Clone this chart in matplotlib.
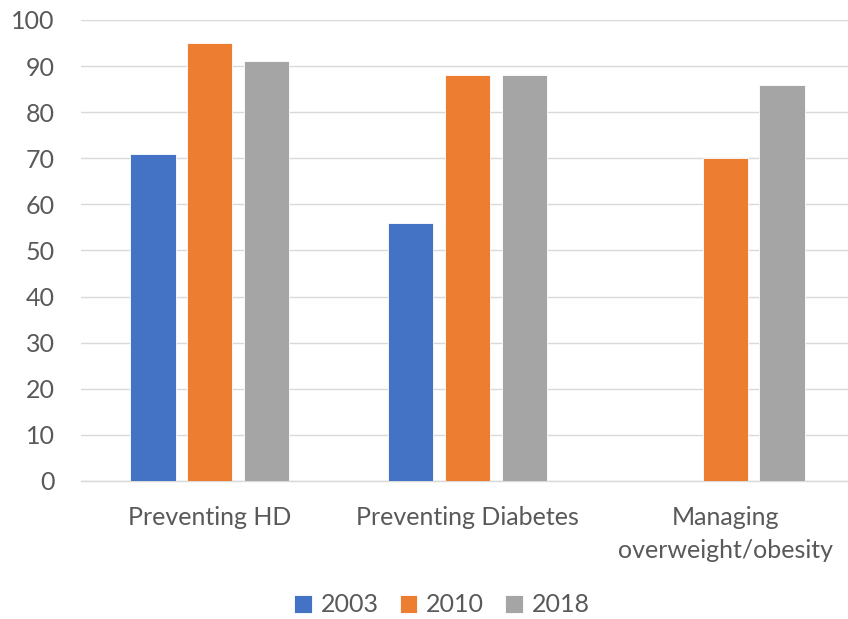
import matplotlib.pyplot as plt
import numpy as np

plt.rcParams['font.family'] = ['Lato', 'DejaVu Sans']

categories = ['Preventing HD', 'Preventing Diabetes', 'Managing\noverweight/obesity']
years = ['2003', '2010', '2018']
v2003 = [71, 56, np.nan]
v2010 = [95, 88, 70]
v2018 = [91, 88, 86]
colors = ['#4472C4', '#ED7D31', '#A5A5A5']

W, H = 848, 619
fig = plt.figure(figsize=(W / 100, H / 100), dpi=100)
ax = fig.add_axes([81 / W, 1 - 481 / H, 773 / W, 461 / H])

x = np.arange(len(categories))
bw = 0.175
step = 0.2205
for i, (vals, c, lab) in enumerate(zip([v2003, v2010, v2018], colors, years)):
    ax.bar(x + (i - 1) * step, vals, bw, color=c, edgecolor='white',
           linewidth=0.6, label=lab, zorder=3)

fs = 18
ax.set_xlim(-0.5, 2.5)
ax.set_ylim(0, 100)
ax.set_yticks(range(0, 101, 10))
ax.set_xticks(x)
ax.set_xticklabels(categories, fontsize=fs, color='#595959', linespacing=1.55)
ax.tick_params(axis='y', labelsize=fs, labelcolor='#595959', length=0, pad=19)
ax.tick_params(axis='x', length=0, pad=18)
ax.grid(axis='y', color='#D9D9D9', linewidth=1, zorder=0)
for s in ['top', 'right', 'left']:
    ax.spines[s].set_visible(False)
ax.spines['bottom'].set_color('#D9D9D9')
ax.spines['bottom'].set_linewidth(1)

ax.legend(loc='center', bbox_to_anchor=(442 / W, 1 - 605 / H),
          bbox_transform=fig.transFigure, ncol=3, frameon=False,
          fontsize=fs, labelcolor='#595959', handlelength=0.7,
          handleheight=0.7, handletextpad=0.35, columnspacing=0.85)

fig.savefig('out.png', dpi=100, facecolor='white')
